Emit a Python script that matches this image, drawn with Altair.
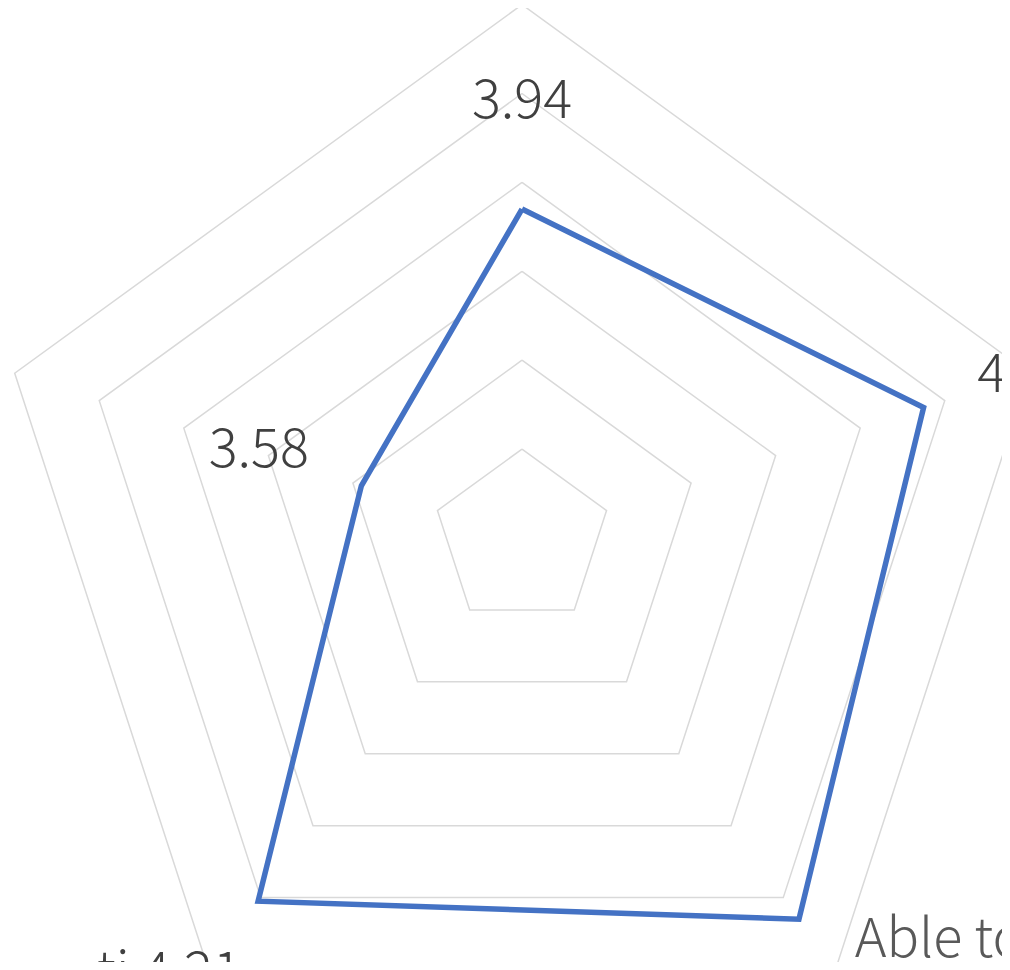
import altair as alt
import pandas as pd

# ---- data ----
categories = ["Top", "Right", "Able to", "ti", "Left"]
values = [3.94, 4.15, 4.26, 4.21, 3.58]
ring_levels = [3.4, 3.6, 3.8, 4.0, 4.2, 4.4]
axis_min = 3.2
label_texts = ["3.94", "4.15", "Able to", "ti 4.21", "3.58"]

# ---- layout (not data) ----
W, H = 994, 954
S = 444.5                      # px per value unit
CX, CY = 514, 530              # centre inside the plot area
label_radius = [0.9455, 1.0626, 1.166, 1.291, 0.6227]
label_align = ["center", "left", "left", "right", "center"]
label_dx = [0, 6, 28, 57, 0]
label_dy = [0, 0, 0, -12, 15]
label_color = ["#404040", "#404040", "#595959", "#404040", "#404040"]
FONT = "Noto Sans CJK JP"
FSIZE = 54

n = len(categories)
series_df = pd.DataFrame({
    "k": list(range(n + 1)),
    "cat": [categories[i % n] for i in range(n + 1)],
    "v": [values[i % n] for i in range(n + 1)],
})
ring_df = pd.DataFrame(
    [{"level": lv, "k": k, "v": lv} for lv in ring_levels for k in range(n + 1)]
)

xs = alt.Scale(domain=[-CX / S, (W - CX) / S], nice=False, zero=False)
ys = alt.Scale(domain=[-(H - CY) / S, CY / S], nice=False, zero=False)

def polar(ch, rexpr="datum.v - %s" % axis_min):
    return ch.transform_calculate(
        theta="datum.k * 2 * PI / %d" % n
    ).transform_calculate(
        x="(%s) * sin(datum.theta)" % rexpr,
        y="(%s) * cos(datum.theta)" % rexpr,
    )

rings = polar(alt.Chart(ring_df)).mark_line(
    color="#D9D9D9", strokeWidth=1.5, clip=True
).encode(
    x=alt.X("x:Q", scale=xs, axis=None),
    y=alt.Y("y:Q", scale=ys, axis=None),
    detail="level:N",
    order="k:Q",
)

series = polar(alt.Chart(series_df)).mark_line(
    color="#4472C4", strokeWidth=5.5, strokeJoin="miter", clip=True
).encode(
    x=alt.X("x:Q", scale=xs, axis=None),
    y=alt.Y("y:Q", scale=ys, axis=None),
    order="k:Q",
)

layers = [rings, series]
for i in range(n):
    df = pd.DataFrame({"k": [i], "r": [label_radius[i]], "t": [label_texts[i]]})
    layers.append(
        polar(alt.Chart(df), rexpr="datum.r").mark_text(
            font=FONT, fontSize=FSIZE, fontWeight=300, color=label_color[i],
            align=label_align[i], baseline="alphabetic",
            dx=label_dx[i], dy=label_dy[i], clip=True,
        ).encode(
            x=alt.X("x:Q", scale=xs, axis=None),
            y=alt.Y("y:Q", scale=ys, axis=None),
            text="t:N",
        )
    )

chart = alt.layer(*layers).properties(
    width=W, height=H, padding=0, background="white"
).configure_view(stroke=None)

chart.save("out.html", embed_options={"renderer": "svg", "actions": False})
